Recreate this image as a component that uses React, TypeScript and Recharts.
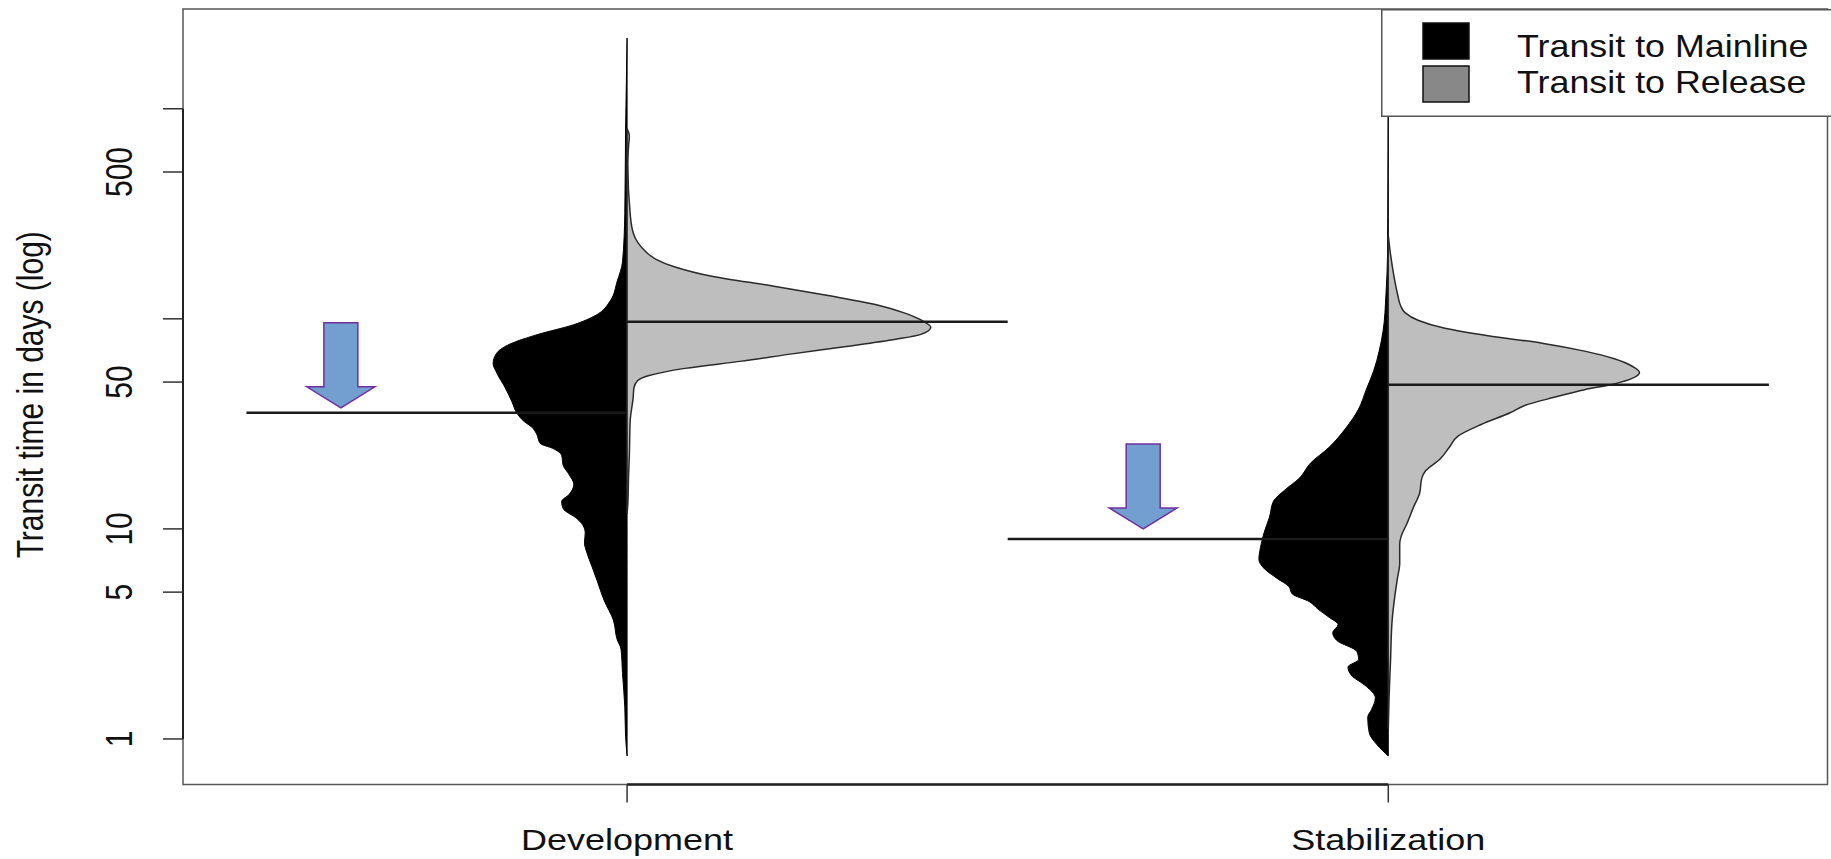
import {
  Area,
  ComposedChart,
  Legend,
  ReferenceArea,
  ReferenceDot,
  ReferenceLine,
  XAxis,
  YAxis,
} from 'recharts'

const categories = ['Development', 'Stabilization']
const seriesNames = ['Transit to Mainline', 'Transit to Release']
const legendFills = ['#000000', '#888888']

const yTickValues = [1, 5, 10, 50, 100, 500, 1000]
const yTickLabels = ['1', '5', '10', '50', '', '500', '']

// bean outlines: transit time (days) and half width (in category units)
const devMainlineDays = [
  0.83, 1.03, 1.42, 2.05, 2.68, 2.97, 3.68, 4.55, 5.62, 6.6, 7.74, 8.6, 9.56, 10.4, 11.2, 12.5,
  13.5, 14.6, 16.3, 18.1, 20.1, 22.4, 24.2, 25.5, 28.4, 30.7, 32.4, 35.7, 40.1, 46.9, 55.1, 61.3,
  68.1, 75.8, 84.3, 93.8, 104, 122, 151, 187, 318, 783, 2168,
]
const devMainlineWidth = [
  0, 0.002, 0.003, 0.006, 0.008, 0.013, 0.018, 0.03, 0.039, 0.046, 0.053, 0.056, 0.055, 0.058,
  0.066, 0.084, 0.086, 0.076, 0.07, 0.076, 0.084, 0.086, 0.098, 0.114, 0.119, 0.126, 0.135, 0.145,
  0.151, 0.16, 0.171, 0.176, 0.172, 0.154, 0.117, 0.07, 0.041, 0.022, 0.013, 0.006, 0.003, 0.002, 0,
]

const devReleaseDays = [
  11.8, 13.2, 18.1, 22.4, 32.4, 42.3, 46.9, 50.9, 53.7, 58.1, 62.9, 68.1, 73.8, 79.9, 84.3, 91.2,
  98.8, 107, 116, 129, 143, 159, 177, 192, 208, 231, 257, 318, 540, 668, 742, 804,
]
const devReleaseWidth = [
  0, 0.001, 0.002, 0.003, 0.004, 0.008, 0.009, 0.014, 0.029, 0.076, 0.151, 0.217, 0.288, 0.353,
  0.386, 0.399, 0.386, 0.363, 0.33, 0.264, 0.193, 0.113, 0.062, 0.038, 0.025, 0.014, 0.008, 0.004,
  0.001, 0.002, 0.003, 0,
]

const stabMainlineDays = [
  0.83, 0.94, 1.07, 1.27, 1.38, 1.57, 1.78, 2.02, 2.2, 2.39, 2.6, 2.95, 3.21, 3.5, 3.8, 4.14, 4.51,
  4.9, 5.34, 5.81, 6.59, 7.17, 8.13, 9.64, 11.4, 13.5, 15.3, 17.4, 20.6, 24.4, 30.1, 37.2, 46,
  56.8, 70.2, 86.7, 132, 202, 469, 1700,
]
const stabMainlineWidth = [
  0, 0.015, 0.025, 0.027, 0.022, 0.017, 0.029, 0.049, 0.053, 0.039, 0.041, 0.068, 0.073, 0.066,
  0.078, 0.092, 0.104, 0.126, 0.131, 0.146, 0.165, 0.17, 0.168, 0.163, 0.156, 0.151, 0.136, 0.117,
  0.102, 0.078, 0.056, 0.039, 0.029, 0.019, 0.012, 0.007, 0.003, 0.001, 0.0005, 0,
]

const stabReleaseDays = [
  1.12, 1.57, 2.39, 3.65, 4.9, 5.81, 6.87, 8.49, 9.24, 10.5, 12.9, 14.7, 17.4, 18.9, 21.5, 24.4,
  27.7, 31.4, 35.7, 38.8, 42.3, 46, 49, 52.2, 55.6, 59.3, 64.5, 70.2, 76.4, 83.1, 90.4, 98.4, 107,
  116, 132, 163, 202, 249,
]
const stabReleaseWidth = [
  0, 0.001, 0.003, 0.005, 0.009, 0.012, 0.015, 0.015, 0.017, 0.024, 0.034, 0.041, 0.044, 0.049,
  0.068, 0.08, 0.092, 0.122, 0.16, 0.18, 0.218, 0.258, 0.297, 0.321, 0.33, 0.321, 0.297, 0.258,
  0.204, 0.131, 0.073, 0.039, 0.022, 0.016, 0.012, 0.007, 0.003, 0,
]

// bean lines (one per half)
const mainlineMeans = [35.7, 8.96]
const releaseMeans = [96.8, 48.5]

// arrow annotations: tip position
const arrowX = [0.624, 1.678]
const arrowY = [37.7, 10.0]

const X_MIN = 0.4166
const X_MAX = 2.577
const Y_MIN = 0.607
const Y_MAX = 2985

const FONT = '"Liberation Sans", Arial, Helvetica, sans-serif'

type BeanRow = { days: number; center: number; edge: number }

function halfBean(days: number[], widths: number[], center: number, side: number): BeanRow[] {
  return days.map((d, i) => ({ days: d, center, edge: center + side * widths[i] }))
}

const beans = [
  { key: 'devMain', rows: halfBean(devMainlineDays, devMainlineWidth, 1, -1), fill: '#000000', stroke: '#000000' },
  { key: 'devRel', rows: halfBean(devReleaseDays, devReleaseWidth, 1, 1), fill: '#bebebe', stroke: '#2a2a2a' },
  { key: 'stabMain', rows: halfBean(stabMainlineDays, stabMainlineWidth, 2, -1), fill: '#000000', stroke: '#000000' },
  { key: 'stabRel', rows: halfBean(stabReleaseDays, stabReleaseWidth, 2, 1), fill: '#bebebe', stroke: '#2a2a2a' },
]

function YTick(props: any) {
  const { x, y, payload } = props
  const label = yTickLabels[yTickValues.indexOf(payload.value)]
  if (!label) return null
  return (
    <text
      transform={`translate(${x - 31},${y}) scale(1.2,1) rotate(-90)`}
      textAnchor="middle"
      fontFamily={FONT}
      fontSize={30}
      fill="#111"
    >
      {label}
    </text>
  )
}

function XTick(props: any) {
  const { x, y, payload } = props
  return (
    <text
      transform={`translate(${x},${y + 47.5}) scale(1.2,1)`}
      textAnchor="middle"
      fontFamily={FONT}
      fontSize={30}
      fill="#111"
    >
      {categories[payload.value - 1]}
    </text>
  )
}

function YTitle(props: any) {
  const vb = props.viewBox
  return (
    <text
      transform={`translate(43,${vb.y + vb.height / 2 - 2}) scale(1.2,1) rotate(-90)`}
      textAnchor="middle"
      fontFamily={FONT}
      fontSize={30}
      fill="#111"
    >
      Transit time in days (log)
    </text>
  )
}

function Arrow(props: any) {
  const { cx, cy } = props
  const pts = [
    [cx - 17, cy - 85],
    [cx + 17, cy - 85],
    [cx + 17, cy - 21],
    [cx + 34, cy - 21],
    [cx, cy],
    [cx - 34, cy - 21],
    [cx - 17, cy - 21],
  ]
  return (
    <polygon
      points={pts.map((p) => p.join(',')).join(' ')}
      fill="#729fcf"
      stroke="#7030a0"
      strokeWidth={1.5}
    />
  )
}

function BeanLegend() {
  return (
    <svg width={450} height={108} style={{ display: 'block' }}>
      <rect x={0.75} y={0.75} width={470} height={106.5} fill="#ffffff" stroke="#555" strokeWidth={1.5} />
      {seriesNames.map((name, i) => (
        <g key={name}>
          <rect x={42} y={14 + i * 43} width={46} height={36} fill={legendFills[i]} stroke="#111" strokeWidth={1.5} />
          <text
            transform={`translate(136,${48 + i * 36}) scale(1.12,1)`}
            fontFamily={FONT}
            fontSize={32}
            fill="#111"
          >
            {name}
          </text>
        </g>
      ))}
    </svg>
  )
}

export default function App() {
  return (
    <div style={{ position: 'absolute', left: 0, top: 0, width: 1831, height: 859, background: '#fff' }}>
      <ComposedChart
        width={1831}
        height={859}
        layout="vertical"
        margin={{ top: 9, right: 3.5, bottom: 0, left: 0 }}
      >
        <XAxis
          type="number"
          dataKey="edge"
          domain={[X_MIN, X_MAX]}
          allowDataOverflow
          ticks={[1, 2]}
          height={74.5}
          axisLine={false}
          tickSize={18}
          tickMargin={0}
          tickLine={{ stroke: '#333', strokeWidth: 1.5 }}
          tick={<XTick />}
        />
        <YAxis
          type="number"
          dataKey="days"
          scale="log"
          reversed
          domain={[Y_MIN, Y_MAX]}
          allowDataOverflow
          ticks={yTickValues}
          width={183}
          axisLine={false}
          tickSize={20}
          tickMargin={0}
          tickLine={{ stroke: '#333', strokeWidth: 1.5 }}
          tick={<YTick />}
          label={{ content: <YTitle /> }}
        />
        <ReferenceArea
          x1={X_MIN}
          x2={X_MAX}
          y1={Y_MIN}
          y2={Y_MAX}
          fill="none"
          stroke="#555"
          strokeWidth={1.5}
          ifOverflow="visible"
        />
        {beans.map((b) => (
          <Area
            key={b.key}
            data={b.rows}
            dataKey={(r: BeanRow) => [r.center, r.edge]}
            type="monotone"
            fill={b.fill}
            fillOpacity={1}
            stroke={b.stroke}
            strokeWidth={b.fill === '#000000' ? 1 : 1.5}
            dot={false}
            activeDot={false}
            isAnimationActive={false}
          />
        ))}
        {categories.map((c, i) => (
          <ReferenceLine
            key={`m-${c}`}
            segment={[
              { x: i + 0.5, y: mainlineMeans[i] },
              { x: i + 1, y: mainlineMeans[i] },
            ]}
            stroke="#1a1a1a"
            strokeWidth={2.5}
            ifOverflow="visible"
          />
        ))}
        {categories.map((c, i) => (
          <ReferenceLine
            key={`r-${c}`}
            segment={[
              { x: i + 1, y: releaseMeans[i] },
              { x: i + 1.5, y: releaseMeans[i] },
            ]}
            stroke="#1a1a1a"
            strokeWidth={2.5}
            ifOverflow="visible"
          />
        ))}
        <ReferenceLine
          segment={[
            { x: X_MIN, y: 1 },
            { x: X_MIN, y: 1000 },
          ]}
          stroke="#222"
          strokeWidth={2}
          ifOverflow="visible"
        />
        <ReferenceLine
          segment={[
            { x: 1, y: Y_MIN },
            { x: 2, y: Y_MIN },
          ]}
          stroke="#222"
          strokeWidth={2.5}
          ifOverflow="visible"
        />
        {arrowX.map((ax, i) => (
          <ReferenceDot key={`a-${i}`} x={ax} y={arrowY[i]} r={0} shape={<Arrow />} ifOverflow="visible" />
        ))}
        <Legend
          layout="vertical"
          align="center"
          verticalAlign="middle"
          content={<BeanLegend />}
          wrapperStyle={{ position: 'absolute', left: 1381, top: 9, width: 450, height: 108, margin: 0, padding: 0 }}
        />
      </ComposedChart>
    </div>
  )
}
